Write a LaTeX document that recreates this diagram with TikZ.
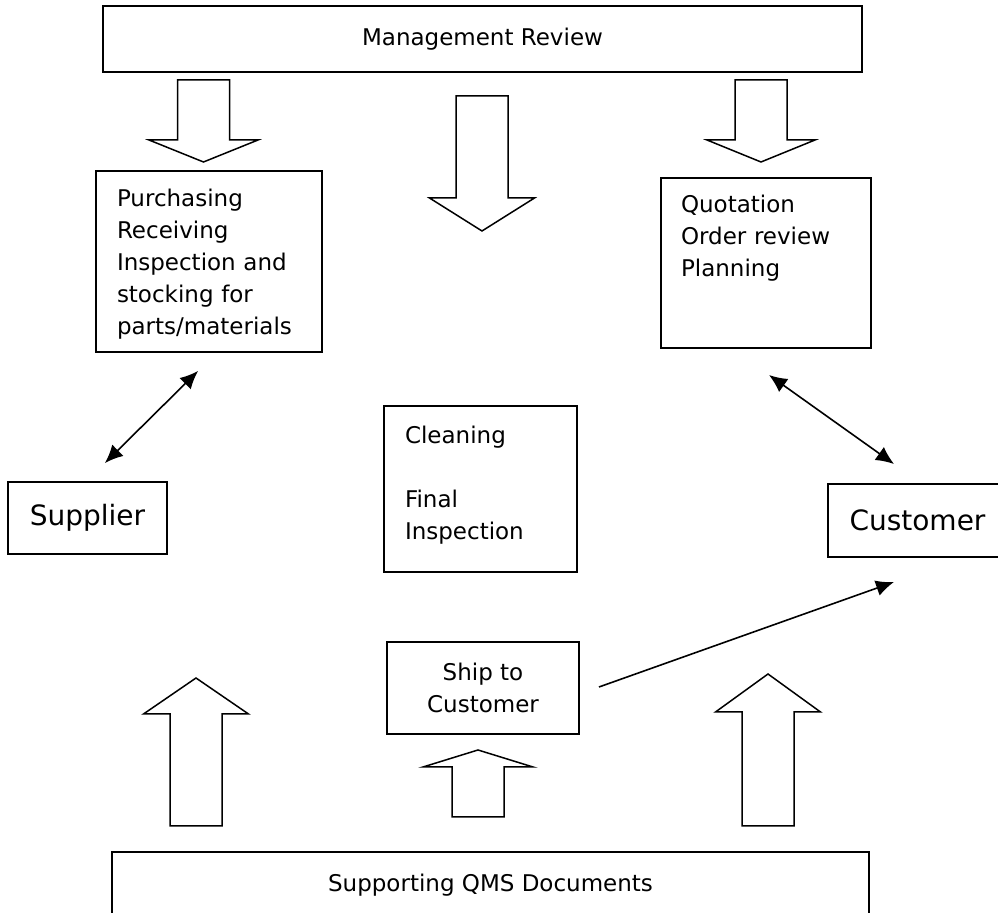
\documentclass[tikz,border=0pt]{standalone}
\usepackage{fontspec}
\setmainfont{DejaVu Sans}
\usetikzlibrary{arrows.meta}

\begin{document}
\begin{tikzpicture}[x=0.5pt, y=-0.5pt,
  font=\fontsize{11.5}{16}\selectfont,
  box/.style={draw, line width=0.9pt, inner sep=0pt, align=left},
  big/.style={font=\fontsize{14}{17}\selectfont},
  blockarrow/.style={draw, line width=0.75pt, fill=white, line join=miter},
  tip/.style={line width=0.8pt, >={Latex[length=9pt,width=8pt]}}]
    \useasboundingbox (0,0) rectangle (998,913);

    \node (mgt) [box, align=center, minimum width=379.5pt, minimum height=33pt] at (482.5,39) {Management Review};
    \node (pur) [box, inner xsep=10.5pt, text width=92pt, text height=18pt, text depth=72.5pt] at (209,261.5)
      {Purchasing\\Receiving\\Inspection and\\stocking for\\parts/materials};
    \node (quo) [box, inner xsep=10pt, text width=85pt, text height=17.5pt, text depth=67.5pt] at (766,263)
      {Quotation\\Order review\\Planning};
    \node (cln) [box, inner xsep=10.5pt, text width=75.5pt, text height=19pt, text depth=64pt] at (480.5,489)
      {Cleaning\\[16pt]Final\\Inspection};
    \node (sup) [box, big, align=center, minimum width=79.5pt, minimum height=36pt] at (87.5,518) {Supplier};
    \node (cus) [box, big, align=center, minimum width=89.5pt, minimum height=36.5pt] at (917.5,520.5) {Customer};
    \node (shp) [box, align=center, minimum width=96pt, minimum height=46pt] at (483,688) {Ship to\\Customer};
    \node (qms) [box, align=center, minimum width=378.5pt, minimum height=33pt] at (490.5,885) {Supporting QMS Documents};

    \foreach \cx/\ya/\yb/\yc/\hw in {203.5/80/140/162/54.5, 482/96/198/231/52.5, 761/80/140/162/54,
        196/826/714/678/52.5, 478/817/767/750/55, 768/826/712/674/52.5}
      \draw[blockarrow] (\cx-26,\ya) -- (\cx-26,\yb) -- (\cx-\hw,\yb) -- (\cx,\yc)
        -- (\cx+\hw,\yb) -- (\cx+26,\yb) -- (\cx+26,\ya) -- cycle;

    \coordinate (sup-end) at (105,463);
    \coordinate (pur-end) at (198,371);
    \coordinate (quo-end) at (769,375);
    \coordinate (cus-end) at (894,464);
    \coordinate (shp-end) at (599,687);
    \coordinate (cus-in) at (894,582);
    \draw[tip, <->] (sup-end) -- (pur-end);
    \draw[tip, <->] (quo-end) -- (cus-end);
    \draw[tip, ->] (shp-end) -- (cus-in);
\end{tikzpicture}
\end{document}
